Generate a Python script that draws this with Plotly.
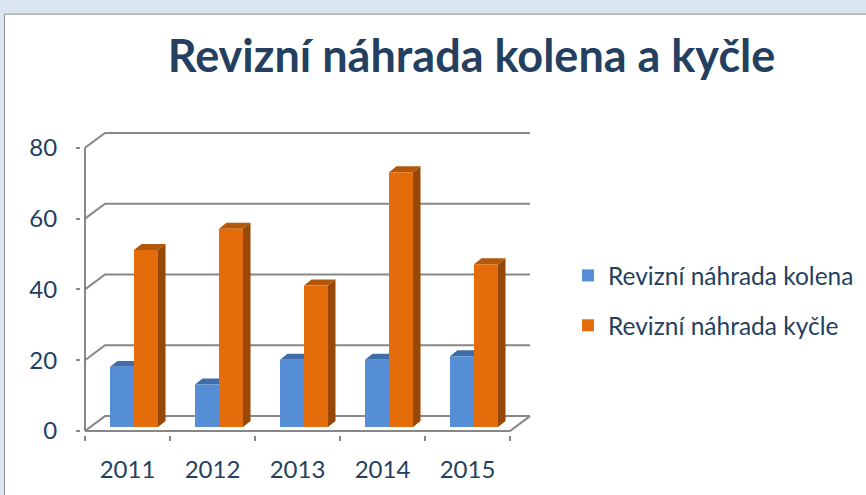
import plotly.graph_objects as go

# ---------------- data ----------------
years = ["2011", "2012", "2013", "2014", "2015"]
knee = [17, 12, 19, 19, 20]
hip = [50, 56, 40, 72, 46]
y_tick_values = [0, 20, 40, 60, 80]
series_names = ["Revizní náhrada kolena", "Revizní náhrada kyčle"]
title_text = "Revizní náhrada kolena a kyčle"

# ---------------- layout constants (pixels) ----------------
W, H = 866, 495
PX_X0 = 85          # pixel of front-left floor corner (x = -0.5)
PX_CAT = 85         # pixels per category
PX_Y0 = 433         # pixel of value 0 on front plane
PX_UNIT = 285 / 80  # pixels per value unit
L, R, T, B = 81, 545, 115, 437
PW, PH = R - L, B - T

DX = 20 / PX_CAT      # depth offset of the back wall
DY = 15 / PX_UNIT
BAR_W = 24 / PX_CAT
BAR_SHIFT = 6.5 / PX_CAT
BASE = 4 / PX_UNIT
SDX = 7.5 / PX_CAT    # bar depth
SDY = 6 / PX_UNIT

GRID = "#878787"
TXT = "#243F60"
FONT = "Lato"

xr_min = -0.5 - (PX_X0 - L) / PX_CAT
xr_max = -0.5 + (R - PX_X0) / PX_CAT
yr_min = -(B - PX_Y0) / PX_UNIT
yr_max = (PX_Y0 - T) / PX_UNIT

n = len(years)
fig = go.Figure()

# back wall gridlines with diagonal connectors
for t in y_tick_values:
    fig.add_trace(go.Scatter(
        x=[-0.5, -0.5 + DX, n - 0.5 + DX], y=[t, t + DY, t + DY],
        mode="lines", line=dict(color=GRID, width=2),
        showlegend=False, hoverinfo="skip", zorder=0))
# front vertical axis line
fig.add_trace(go.Scatter(
    x=[-0.5, -0.5], y=[0, max(y_tick_values)],
    mode="lines", line=dict(color=GRID, width=2),
    showlegend=False, hoverinfo="skip", zorder=0))
# front floor edge
fig.add_trace(go.Scatter(
    x=[-0.5, n - 0.5, n - 0.5 + DX], y=[0, 0, DY],
    mode="lines", line=dict(color=GRID, width=2),
    showlegend=False, hoverinfo="skip", zorder=0))


def faces(centers, values):
    sx, sy, tx, ty = [], [], [], []
    for c, v in zip(centers, values):
        xl, xr = c - BAR_W / 2, c + BAR_W / 2
        h = BASE + v
        sx += [xr, xr + SDX, xr + SDX, xr, xr, None]
        sy += [BASE, BASE + SDY, h + SDY, h, BASE, None]
        tx += [xl, xl + SDX, xr + SDX, xr, xl, None]
        ty += [h, h + SDY, h + SDY, h, h, None]
    return sx, sy, tx, ty


series = [
    (series_names[0], knee, "#558ED5", "#3E6DAA", "#3E6DAA", -1),
    (series_names[1], hip, "#E46C0A", "#974806", "#B3570A", 1),
]
z = 1
for name, vals, front, side, top, sgn in series:
    centers = [i + BAR_SHIFT + sgn * BAR_W / 2 for i in range(n)]
    sx, sy, tx, ty = faces(centers, vals)
    fig.add_trace(go.Scatter(x=sx, y=sy, mode="lines", fill="toself",
                             fillcolor=side, line=dict(width=0, color=side),
                             showlegend=False, hoverinfo="skip", zorder=z))
    fig.add_trace(go.Scatter(x=tx, y=ty, mode="lines", fill="toself",
                             fillcolor=top, line=dict(width=0, color=top),
                             showlegend=False, hoverinfo="skip", zorder=z))
    fig.add_trace(go.Bar(x=centers, y=vals, base=BASE, width=BAR_W, name=name,
                         legendgroup=name,
                         marker=dict(color=front, line=dict(width=0)),
                         customdata=years,
                         hovertemplate="%{customdata}: %{y}<extra>" + name + "</extra>",
                         zorder=z + 1))
    z += 2

fig.update_layout(
    width=W, height=H,
    margin=dict(l=L, r=W - R, t=T, b=H - B, pad=0),
    paper_bgcolor="#DCE6F2",
    plot_bgcolor="rgba(0,0,0,0)",
    barmode="overlay",
    font=dict(family=FONT, color=TXT),
    title=dict(text=title_text, x=471.5 / W, xanchor="center", xref="container",
               y=1 - 56 / H, yanchor="middle", yref="container",
               font=dict(family=FONT, size=45, color=TXT, weight="bold")),
    xaxis=dict(range=[xr_min, xr_max], tickmode="array",
               tickvals=list(range(n)), ticktext=years,
               ticks="", ticklen=0, showgrid=False, zeroline=False, showline=False,
               tickfont=dict(family=FONT, size=24, color=TXT),
               ticklabelstandoff=18,
               minor=dict(tickmode="array", tickvals=[i - 0.5 for i in range(n + 1)],
                          ticks="outside", ticklen=5, tickwidth=2, tickcolor=GRID,
                          showgrid=False)),
    yaxis=dict(range=[yr_min, yr_max], tickmode="array", tickvals=y_tick_values,
               ticks="outside", ticklen=4, tickwidth=2, tickcolor=GRID,
               showgrid=False, zeroline=False, showline=False,
               tickfont=dict(family=FONT, size=24, color=TXT),
               ticklabelstandoff=14),
    legend=dict(x=568 / W, y=1 - 253 / H, xref="container", yref="container",
                xanchor="left", yanchor="top", bgcolor="rgba(0,0,0,0)",
                font=dict(family=FONT, size=24.5, color=TXT),
                tracegroupgap=15, itemclick=False),
    shapes=[dict(type="rect", xref="paper", yref="paper", layer="below",
                 x0=(4.5 - L) / PW, x1=(W + 10 - L) / PW,
                 y0=(B - (H + 10)) / PH, y1=(B - 13.5) / PH,
                 fillcolor="white", line=dict(color="#8E8E8E", width=1))],
)

fig.write_html("out.html", config={"displayModeBar": False},
               post_script="document.body.style.margin='0px';document.body.style.overflow='hidden';")
